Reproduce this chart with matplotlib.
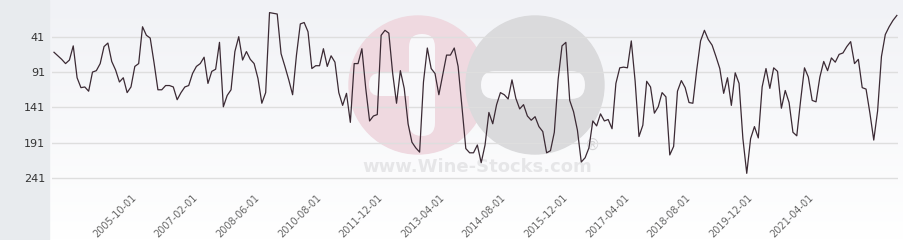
import numpy as np
import matplotlib
matplotlib.use("Agg")
import matplotlib.pyplot as plt
from matplotlib.patches import Circle, FancyBboxPatch, Rectangle
from matplotlib.colors import LinearSegmentedColormap

# monthly rank values (lower = better)
ranks = [
    63, 68, 73, 79, 74, 54, 99, 113, 112, 118, 91, 89, 79, 55, 50, 76, 88, 105, 99, 120,
    112, 83, 79, 27, 39, 43, 78, 116, 116, 110,
    110, 112, 130, 120, 112, 110, 93, 83, 79, 70, 107, 90, 87, 49, 140, 124, 116, 62, 41, 74,
    62, 73, 79, 100, 135, 120, 7, 8, 9, 65, 83, 102,
    123, 67, 23, 21, 34, 86, 82, 82, 58, 83, 68, 77, 120, 138, 121, 162, 79, 79, 58, 114,
    160, 153, 151, 39, 32, 36, 93, 135, 89, 114, 164,
    190, 198, 204, 105, 57, 86, 93, 123, 95, 67, 67, 57, 83, 140, 199, 205, 205, 194, 219, 194,
    148, 164, 137, 120, 123, 129, 102, 128, 143, 137, 153,
    159, 154, 168, 175, 205, 202, 176, 101, 54, 49, 131, 147, 173, 218, 212, 198, 160, 167, 150, 160,
    158, 171, 107, 85, 84, 85, 47, 104, 182, 166, 104,
    112, 149, 140, 120, 126, 208, 196, 118, 103, 113, 134, 135, 88, 47, 32, 45, 53, 69, 86, 121,
    99, 138, 92, 107, 185, 234, 185, 168, 184, 112, 86, 114,
    85, 90, 142, 117, 134, 176, 181, 131, 85, 98, 131, 133, 98, 76, 89, 71, 77, 66, 64, 55,
    48, 79, 73, 113, 115, 149, 187, 146, 69, 38, 27, 18, 11,
]

y_ticks = [41, 91, 141, 191, 241]
tick_labels = ["2005-10-01", "2007-02-01", "2008-06-01", "2010-08-01", "2011-12-01",
               "2013-04-01", "2014-08-01", "2015-12-01", "2017-04-01", "2018-08-01",
               "2019-12-01", "2021-04-01"]
first_tick = 21
tick_step = 16

W, H = 904, 240
fig = plt.figure(figsize=(W / 100, H / 100), dpi=100)

# background layer in pixel units
bg = fig.add_axes([0, 0, 1, 1], zorder=0)
grad = LinearSegmentedColormap.from_list("g", ["#f1f2f6", "#ffffff"])
bg.imshow(np.linspace(0, 1, 240)[:, None], extent=(49, W, H, 0), cmap=grad, aspect="auto")
bg.add_patch(Rectangle((0, 0), 49, H, color="#e8ebee"))

# watermark logo
bg.add_patch(Circle((418, 85), 69, color="#efd9e0"))
bg.add_patch(FancyBboxPatch((409, 34), 26, 102, boxstyle="round,pad=0,rounding_size=13",
                            color="#f8f8fa", lw=0))
bg.add_patch(FancyBboxPatch((369, 73), 66, 23, boxstyle="round,pad=0,rounding_size=11",
                            color="#f8f8fa", lw=0))
bg.add_patch(Circle((535, 85), 69, color="#dadadc"))
bg.add_patch(FancyBboxPatch((481, 71), 104, 28, boxstyle="round,pad=0,rounding_size=14",
                            color="#f8f8fa", lw=0))
bg.text(477, 167, "www.Wine-Stocks.com", ha="center", va="center", fontsize=13,
        fontweight="bold", color="#e6e6e8")
bg.text(593, 145, "\u00ae", ha="center", va="center", fontsize=11, color="#d6d6d8")
bg.set_xlim(0, W)
bg.set_ylim(H, 0)
bg.axis("off")

# chart
ax = fig.add_axes([52 / W, (H - 188) / H, 846 / W, 188 / H], zorder=1)
ax.patch.set_alpha(0)
x = np.arange(len(ranks))
ax.plot(x, ranks, color="#3b2a34", lw=0.9)

ax.set_xlim(-0.52, len(ranks) - 1 + 0.3)
ax.set_ylim(254.7, -10.8)
ax.set_yticks(y_ticks)
ax.set_yticklabels([str(v) for v in y_ticks], fontsize=8, color="#333333")
ax.yaxis.grid(True, color="#dedede", lw=1)
ax.set_axisbelow(True)

ticks = [first_tick + tick_step * i for i in range(len(tick_labels))]
ax.set_xticks(ticks)
ax.set_xticklabels(tick_labels, rotation=45, ha="right", va="center",
                   rotation_mode="anchor", fontsize=7, color="#666666")
ax.tick_params(axis="x", length=0, pad=6)
ax.tick_params(axis="y", length=0, pad=5)
for s in ax.spines.values():
    s.set_visible(False)

fig.savefig("out.png", dpi=100)
